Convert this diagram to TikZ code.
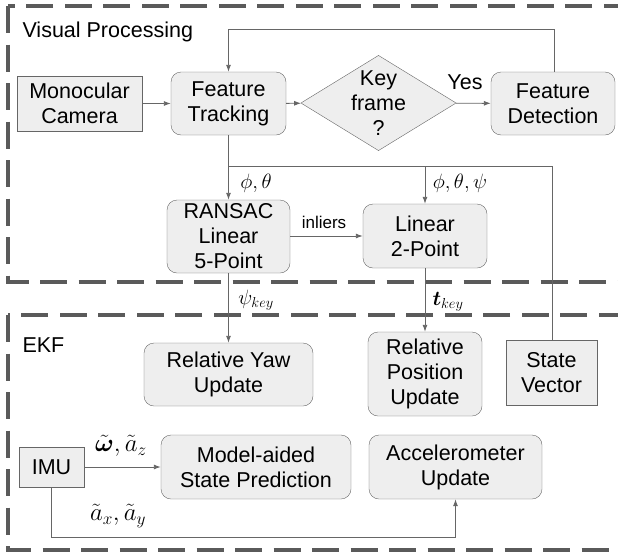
\documentclass[tikz,border=0pt]{standalone}
\usepackage{fontspec}
\setmainfont{Liberation Sans}
\usepackage{bm}
\usetikzlibrary{shapes.geometric,arrows.meta}
\definecolor{boxfill}{HTML}{EEEEEE}
\definecolor{edge}{HTML}{666666}
\definecolor{dashgray}{HTML}{5A5A5A}
\begin{document}
\begin{tikzpicture}[x=1pt,y=-1pt,
        font=\fontsize{21.5}{25}\selectfont,
        blk/.style={draw=edge, fill=boxfill, align=center, inner sep=1pt},
        rblk/.style={blk, rounded corners=10pt},
        arr/.style={draw=edge, line width=0.9pt, -{Latex[length=7pt,width=5pt]}},
        ln/.style={draw=edge, line width=0.9pt},
        biglbl/.style={font=\fontsize{27}{30}\selectfont},
        region/.style={draw=dashgray, line width=3.5pt, dash pattern=on 27pt off 11.5pt}]
        \clip (0,0) rectangle (618,552);
        % the two processing regions
        \draw[region] (8,6) rectangle (640,282);
        \draw[region] (8,315) rectangle (640,550);
        \node[anchor=base west] (vp) at (19,37){Visual Processing};
        \node[anchor=base west] (ekf) at (19,352){EKF};
        % visual processing blocks
        \node[blk, minimum width=125, minimum height=55] (cam) at (79.5,103.5){Monocular\\Camera};
        \node[rblk, minimum width=115, minimum height=63] (track) at (228.5,103.5){Feature\\Tracking};
        \node[diamond, draw=edge, fill=boxfill, aspect=1.63, inner sep=-1pt, align=center] (key) at (378.5,103){Key\\frame\\?};
        \node[rblk, minimum width=124, minimum height=63] (det) at (553,103.5){Feature\\Detection};
        \node[rblk, minimum width=123, minimum height=73] (ransac) at (228.5,236.5){RANSAC\\Linear\\5-Point};
        \node[rblk, minimum width=124, minimum height=64] (lin2) at (425,236){Linear\\2-Point};
        % EKF blocks
        \node[rblk, minimum width=169, minimum height=63] (yaw) at (228.5,374.5){Relative Yaw\\Update};
        \node[rblk, minimum width=114, minimum height=84] (pos) at (425,374){Relative\\Position\\Update};
        \node[blk, minimum width=91, minimum height=65] (state) at (551.5,372.5){State\\Vector};
        \node[blk, minimum width=65, minimum height=40] (imu) at (51.5,467){IMU};
        \node[rblk, minimum width=190, minimum height=64] (pred) at (256,467){Model-aided\\State Prediction};
        \node[rblk, minimum width=173, minimum height=64] (acc) at (455.5,467){Accelerometer\\Update};
        % connectors
        \draw[arr] (cam) -- (track);
        \draw[arr] (track) -- (key);
        \draw[arr] (key) -- (det);
        \node (yes) at (465,82){Yes};
        \coordinate (loop) at (554,29);
        \draw[arr] (det.north -| loop) -- (loop) -| (track.north);
        \coordinate (busL) at (228.5,166);
        \coordinate (busR) at (552,166);
        \draw[ln] (state.north -| busR) -- (busR) -- (busL);
        \draw[arr] (track) -- (ransac);
        \draw[arr] (lin2.north |- busL) -- (lin2.north);
        \node (pt) at (256,183){$\phi,\theta$};
        \node (ptp) at (460,183){$\phi,\theta,\psi$};
        \draw[arr] (ransac.east |- lin2.west) -- (lin2.west);
        \node[font=\fontsize{17}{20}\selectfont] (inl) at (324,222){inliers};
        \draw[arr] (ransac) -- (yaw);
        \node (psik) at (256,300){$\psi_{key}$};
        \draw[arr] (lin2) -- (pos);
        \node (tk) at (448,302){$\bm{t}_{key}$};
        \draw[arr] (imu) -- (pred);
        \node[biglbl] (om) at (121,446){$\tilde{\bm{\omega}},\tilde{a}_z$};
        \coordinate (low) at (51.5,537);
        \draw[arr] (imu.south) -- (low) -| (acc.south);
        \node[biglbl] (axy) at (118,516){$\tilde{a}_x,\tilde{a}_y$};
    \end{tikzpicture}
\end{document}
